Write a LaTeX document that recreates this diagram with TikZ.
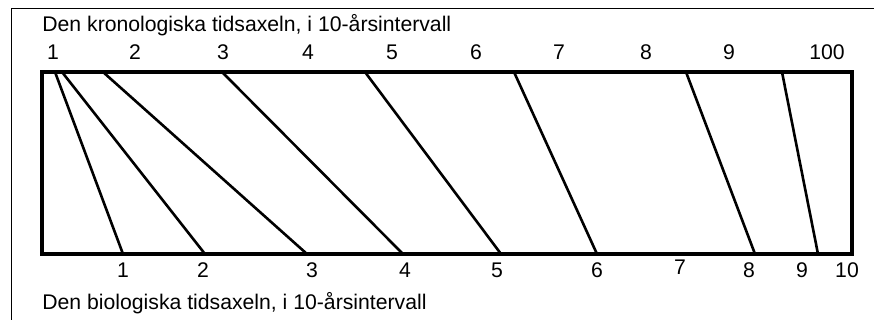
\documentclass[tikz,border=0pt]{standalone}
\usepackage{fontspec}
\setmainfont{Liberation Sans}
\usetikzlibrary{positioning}
\tikzset{
  frame line/.style={draw=black,line width=0.5pt},
  axis box/.style={draw=black,line width=1.6pt},
  age line/.style={draw=black,line width=1.3pt},
  axis title/.style={anchor=base west,inner sep=0pt,font=\fontsize{10.6}{12}\selectfont},
  year label/.style={anchor=base,inner sep=0pt,font=\fontsize{10.6}{12}\selectfont}
}

\begin{document}
\begin{tikzpicture}[x=0.5pt,y=-0.5pt]
\useasboundingbox (0,0) rectangle (874,320);
\coordinate (frameSW) at (11,320);
\coordinate (frameNE) at (874,9);
\draw[frame line] (frameSW) |- (frameNE);
% the two time axes
\coordinate (boxNW) at (42,72);
\coordinate (boxSE) at (852,254);
\draw[axis box] (boxNW) rectangle (boxSE);
\foreach \tx/\bx [count=\i] in {55/123,62/205,103/307,222/403,365/501,514/597,686/755,782/818}{
  \coordinate (top\i) at (\tx,72);
  \coordinate (bot\i) at (\bx,254);
  \draw[age line] (top\i) -- (bot\i);
}
% labels
\node[axis title] (chrontitle) at (42,32) {Den kronologiska tidsaxeln, i 10-årsintervall};
\foreach \x/\t in {53/1,135/2,223/3,308/4,392/5,476/6,559/7,646/8,729/9,827/100}
  \node[year label] (chron\t) at (\x,60) {\t};
\foreach \x/\y/\t in {123/278/1,203/278/2,312/278/3,405/278/4,497/278/5,597/278/6,680/275/7,749/278/8,802/278/9,847/278/10}
  \node[year label] (bio\t) at (\x,\y) {\t};
\node[axis title] (biotitle) at (42,310) {Den biologiska tidsaxeln, i 10-årsintervall};
\end{tikzpicture}
\end{document}
